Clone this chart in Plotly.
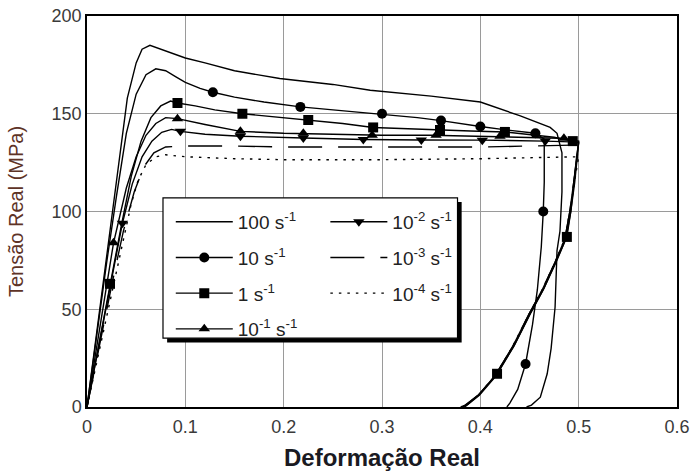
import plotly.graph_objects as go

# ---- true stress-strain curves at several strain rates ----
# 100 s^-1
x_100 = [0, 0.01, 0.02, 0.03, 0.041, 0.05, 0.056, 0.064, 0.075, 0.09, 0.1, 0.12, 0.15, 0.196,
         0.25, 0.288, 0.35, 0.4, 0.44, 0.471, 0.478, 0.483, 0.483, 0.481, 0.478, 0.476, 0.472,
         0.468, 0.461, 0.452, 0.447]
y_100 = [0, 38, 76, 116, 158, 176, 183, 185, 183, 180, 178.5, 176, 172, 168,
         165, 162, 159, 156, 149, 143, 140, 130, 110, 90, 80, 51, 30,
         17, 5, 1, 0]

# 10 s^-1
x_10 = [0, 0.01, 0.02, 0.03, 0.04, 0.05, 0.06, 0.07, 0.08, 0.09, 0.1, 0.115, 0.128, 0.15, 0.18,
        0.217, 0.25, 0.3, 0.336, 0.36, 0.379, 0.4, 0.422, 0.44, 0.456, 0.465, 0.465, 0.464,
        0.462, 0.458, 0.453, 0.446, 0.438, 0.43, 0.427]
y_10 = [0, 37, 74, 108, 140, 160, 170, 173, 172, 169, 166, 163, 161, 158.5, 156,
        153.5, 152, 150, 148, 146.5, 145, 143.5, 142, 141, 140, 137, 115, 100,
        82, 60, 42, 22, 9, 2, 0]
mx_10 = [0.128, 0.217, 0.3, 0.36, 0.4, 0.456, 0.464, 0.446]
my_10 = [161, 153.5, 150, 146.5, 143.5, 140, 100, 22]

# 1 s^-1
x_1 = [0, 0.01, 0.0234, 0.035, 0.045, 0.055, 0.065, 0.075, 0.085, 0.092, 0.11, 0.13, 0.158,
       0.19, 0.225, 0.26, 0.291, 0.325, 0.359, 0.39, 0.425, 0.45, 0.475, 0.494, 0.5,
       0.498, 0.496, 0.492, 0.488, 0.478, 0.465, 0.451, 0.435, 0.417, 0.4, 0.39, 0.382]
y_1 = [0, 27, 63, 93, 118, 136, 148, 154, 156.5, 155.5, 154, 152, 150,
       148.5, 146.8, 145, 143, 142.3, 141.7, 141.2, 140.7, 139.5, 138, 136, 135,
       128, 118, 100, 87, 76, 61, 48, 32, 17, 7, 3, 0]
mx_1 = [0.0234, 0.092, 0.158, 0.225, 0.291, 0.359, 0.425, 0.494, 0.488, 0.417]
my_1 = [63, 155.5, 150, 146.8, 143, 141.7, 140.7, 136, 87, 17]

# 10^-1 s^-1
x_01 = [0, 0.01, 0.027, 0.04, 0.05, 0.06, 0.07, 0.08, 0.092, 0.12, 0.156, 0.2, 0.25, 0.3,
        0.35, 0.4, 0.45, 0.48, 0.5, 0.498, 0.495, 0.491, 0.486, 0.476, 0.463, 0.449, 0.433,
        0.415, 0.398, 0.385, 0.38]
y_01 = [0, 31, 84, 112, 128, 139, 145, 148, 147.5, 144.5, 141, 140, 139.5, 139,
        139, 138.5, 138, 137.5, 136, 127, 115, 100, 86, 74, 60, 47, 31,
        16, 6, 1, 0]
mx_01 = [0.027, 0.092, 0.156, 0.22, 0.29, 0.355, 0.42, 0.485]
my_01 = [84, 147.5, 141, 140, 139, 139, 138.5, 137.5]

# 10^-2 s^-1
x_001 = [0, 0.012, 0.024, 0.036, 0.046, 0.056, 0.066, 0.076, 0.086, 0.095, 0.12, 0.156, 0.22,
         0.281, 0.34, 0.402, 0.466, 0.5, 0.498, 0.496, 0.492, 0.487, 0.477, 0.464, 0.45,
         0.434, 0.416, 0.399, 0.388, 0.384]
y_001 = [0, 31, 63, 94, 114, 128, 136, 140.5, 142, 141, 139.5, 138.5, 137.6,
         136.8, 136.6, 136.5, 136, 135.5, 125, 115, 100, 86, 74, 60, 47,
         31, 16, 6, 1.5, 0]
mx_001 = [0.036, 0.095, 0.156, 0.22, 0.281, 0.34, 0.402, 0.466]
my_001 = [94, 141, 138.5, 137.6, 136.8, 136.6, 136.5, 136]

# 10^-3 s^-1
x_0001 = [0, 0.012, 0.025, 0.037, 0.048, 0.058, 0.068, 0.08, 0.1, 0.15, 0.2, 0.3, 0.4, 0.45,
          0.5, 0.498, 0.495, 0.491, 0.486, 0.476, 0.463, 0.449, 0.433, 0.415, 0.398, 0.386, 0.382]
y_0001 = [0, 30, 62, 90, 110, 123, 130, 133, 133.5, 133.5, 133, 133, 133, 133.5,
          134, 126, 115, 100, 86, 74, 60, 47, 31, 16, 6, 1, 0]

# 10^-4 s^-1
x_00001 = [0, 0.012, 0.025, 0.035, 0.045, 0.052, 0.06, 0.07, 0.08, 0.1, 0.15, 0.2, 0.3, 0.4,
           0.45, 0.5, 0.498, 0.495, 0.491, 0.486, 0.476, 0.463, 0.449, 0.433, 0.415, 0.398,
           0.386, 0.382]
y_00001 = [0, 28, 58, 82, 104, 116, 124, 128, 129, 128, 127, 126.5, 126.5, 127,
           127.5, 128, 122, 112, 100, 86, 74, 60, 47, 31, 16, 6, 1, 0]

# axis ticks
x_ticks = [0, 0.1, 0.2, 0.3, 0.4, 0.5, 0.6]
y_ticks = [0, 50, 100, 150, 200]

LW = 1.4
MS = 10
FONT = "Liberation Sans, Arial, sans-serif"

series = [
    # name, x, y, marker x, marker y, symbol, dash, legend
    ("100 s<sup>-1</sup>", x_100, y_100, None, None, None, "solid", "legend"),
    ("10 s<sup>-1</sup>", x_10, y_10, mx_10, my_10, "circle", "solid", "legend"),
    ("1 s<sup>-1</sup>", x_1, y_1, mx_1, my_1, "square", "solid", "legend"),
    ("10<sup>-1</sup> s<sup>-1</sup>", x_01, y_01, mx_01, my_01, "triangle-up", "solid", "legend"),
    ("10<sup>-2</sup> s<sup>-1</sup>", x_001, y_001, mx_001, my_001, "triangle-down", "solid", "legend2"),
    ("10<sup>-3</sup> s<sup>-1</sup>", x_0001, y_0001, None, None, None, "34px,16px", "legend2"),
    ("10<sup>-4</sup> s<sup>-1</sup>", x_00001, y_00001, None, None, None, "2.5px,6px", "legend2"),
]

fig = go.Figure()
for i, (name, xs, ys, mxs, mys, sym, dash, leg) in enumerate(series):
    fig.add_trace(go.Scatter(x=xs, y=ys, mode="lines", showlegend=False,
                             line=dict(color="black", width=LW, dash=dash)))
    if mxs is not None:
        fig.add_trace(go.Scatter(x=mxs, y=mys, mode="markers", showlegend=False,
                                 marker=dict(symbol=sym, size=MS, color="black")))
    # legend entry
    fig.add_trace(go.Scatter(
        x=[None], y=[None], name=name, legend=leg, legendgroup=f"g{i}",
        mode="lines+markers" if sym else "lines",
        line=dict(color="black", width=LW, dash=dash),
        marker=dict(symbol=sym or "circle", size=MS, color="black"),
    ))

# legend frame with a heavy drop shadow on the right and bottom
bx0, bx1, by0, by1 = 0.1288, 0.628, 0.176, 0.535
fig.add_shape(type="rect", xref="paper", yref="paper", layer="above",
              x0=bx0 + 0.007, x1=bx1 + 0.007, y0=by0 - 0.011, y1=by1 - 0.011,
              fillcolor="black", line=dict(width=0))
fig.add_shape(type="rect", xref="paper", yref="paper", layer="above",
              x0=bx0, x1=bx1, y0=by0, y1=by1,
              fillcolor="white", line=dict(color="black", width=1.2))

leg_common = dict(bgcolor="rgba(0,0,0,0)", borderwidth=0, itemwidth=57,
                  font=dict(family=FONT, size=19, color="#222"),
                  tracegroupgap=8, xanchor="left", yanchor="top")
fig.update_layout(
    width=692, height=471,
    margin=dict(l=87, r=15, t=16, b=64, autoexpand=False),
    paper_bgcolor="white", plot_bgcolor="white",
    font=dict(family=FONT, size=18, color="#3a3a3a"),
    legend=dict(x=0.142, y=0.522, **leg_common),
    legend2=dict(x=0.404, y=0.522, **leg_common),
    xaxis=dict(range=[0, 0.6], tickvals=x_ticks, ticktext=[f"{v:g}" for v in x_ticks],
               automargin=False,
               showgrid=True, gridcolor="#9a9a9a", gridwidth=1,
               showline=True, mirror=True, linecolor="black", linewidth=1.5,
               zeroline=False, ticks="", ticklabelstandoff=3,
               tickfont=dict(size=18, color="#3a3a3a"),
               title=dict(text="<b>Deformação Real</b>", standoff=16,
                          font=dict(family="Liberation Sans Narrow, " + FONT, size=24, color="#1a1a22"))),
    yaxis=dict(range=[0, 200], tickvals=y_ticks, automargin=False,
               showgrid=True, gridcolor="#9a9a9a", gridwidth=1,
               showline=True, mirror=True, linecolor="black", linewidth=1.5,
               zeroline=False, ticks="", tickfont=dict(size=18, color="#3a3a3a"),
               title=dict(text="Tensão Real (MPa)", standoff=23,
                          font=dict(family=FONT, size=20, color="#5e3326"))),
)

fig.write_html("out.html")
